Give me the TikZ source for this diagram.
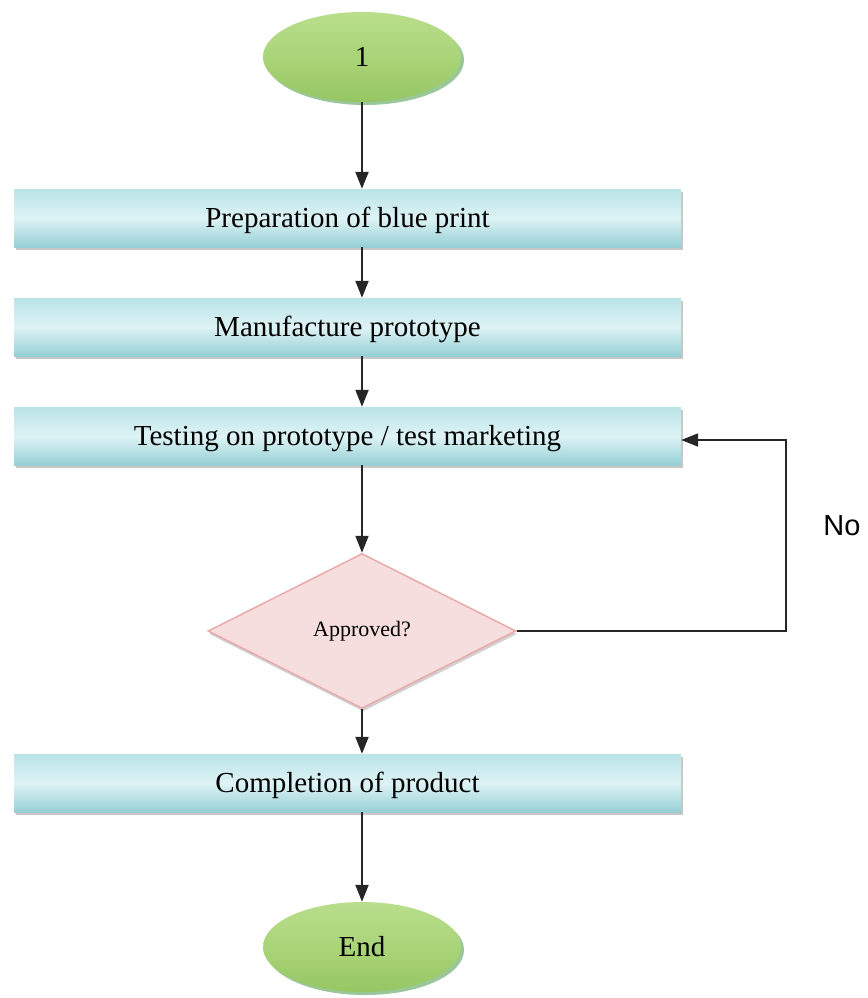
\documentclass[tikz,border=0pt]{standalone}
\usepackage{fontspec}
\setmainfont{Liberation Serif}
\newfontfamily\arialfont{Liberation Sans}
\usetikzlibrary{shapes.geometric,arrows.meta,shadows}
\definecolor{boxtop}{RGB}{185,228,232}
\definecolor{boxmid}{RGB}{222,243,245}
\definecolor{boxbot}{RGB}{150,208,214}
\definecolor{ovtop}{RGB}{185,222,140}
\definecolor{ovmid}{RGB}{170,212,120}
\definecolor{ovbot}{RGB}{150,198,100}
\definecolor{dmfill}{RGB}{246,222,222}
\definecolor{dmline}{RGB}{232,170,170}
\tikzset{
  stepbox/.style={rectangle, minimum width=667pt, minimum height=58pt, inner sep=0pt,
    top color=boxtop, bottom color=boxbot, middle color=boxmid,
    drop shadow={shadow xshift=1.5pt, shadow yshift=-3pt, fill=gray!55, opacity=0.8},
    font=\fontsize{29}{32}\selectfont, text depth=2pt},
  term/.style={ellipse, minimum width=198pt, minimum height=90pt, inner sep=0pt,
    top color=ovtop, bottom color=ovbot, middle color=ovmid,
    drop shadow={shadow xshift=3pt, shadow yshift=-3pt, fill=black!55!green!50, opacity=0.8},
    font=\fontsize{29}{32}\selectfont},
  decide/.style={diamond, minimum width=308pt, minimum height=155pt, inner sep=0pt,
    fill=dmfill, draw=dmline, line width=1.5pt,
    drop shadow={shadow xshift=1pt, shadow yshift=-3pt, fill=gray!45, opacity=0.8},
    font=\fontsize{22}{25}\selectfont},
  flow/.style={-{Triangle[width=13pt,length=17pt]}, line width=2pt, black!85},
}
\begin{document}
\begin{tikzpicture}[x=1pt,y=-1pt]
\useasboundingbox (0,0) rectangle (867,998);
\node[term] (start) at (362,57) {1};
\node[stepbox] (b1) at (347.5,218) {Preparation of blue print};
\node[stepbox] (b2) at (347.5,327) {Manufacture prototype};
\node[stepbox] (b3) at (347.5,436) {Testing on prototype / test marketing};
\node[decide] (dec) at (362,631) {Approved?};
\node[stepbox] (b4) at (347.5,783) {Completion of product};
\node[term] (end) at (362,947) {End};
\coordinate (c1) at (786,631);
\coordinate (c2) at (786,440);
\node[font=\arialfont\fontsize{29}{32}\selectfont] (no) at (842,526) {No};
\draw[flow] (start.south) -- (start.south |- b1.north);
\draw[flow] (start.south |- b1.south) -- (start.south |- b2.north);
\draw[flow] (start.south |- b2.south) -- (start.south |- b3.north);
\draw[flow] (start.south |- b3.south) -- (dec.north);
\draw[flow] (dec.south) -- (dec.south |- b4.north);
\draw[flow] (dec.south |- b4.south) -- (end.north);
\draw[flow] (dec.east) -- (c1) -- (c2) -- (b3.east |- c2);
\end{tikzpicture}
\end{document}
